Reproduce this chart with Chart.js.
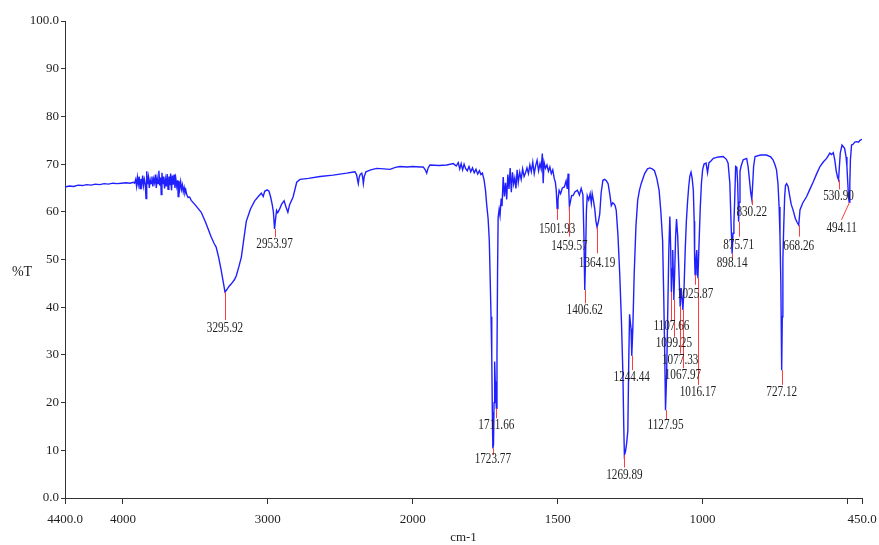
<!DOCTYPE html>
<html>
<head>
<meta charset="utf-8">
<script src="https://cdn.jsdelivr.net/npm/chart.js@4.4.1/dist/chart.umd.min.js"></script>
<style>
html,body{margin:0;padding:0;background:#fff;}
#wrap{position:relative;width:879px;height:545px;}
</style>
</head>
<body>
<div id="wrap"><canvas id="c" width="879" height="545"></canvas></div>
<script>
// ---- spectrum (wavenumber in cm-1, %T) ----
const wavenumbers = [
4400,4370,4340,4310,4280,4250,4220,4190,4160,4130,4100,4070,4040,4010,3980,3950,3930,
3920,3912,3906,3900,3894,3888,3882,3876,3870,3864,3858,3852,3846,3841,3836,3830,3824,3818,
3812,3806,3800,3794,3788,3782,3776,3770,3764,3758,3752,3746,3740,3736,3731,3725,3719,3713,
3707,3701,3695,3689,3683,3677,3671,3665,3659,3653,3647,3641,3635,3629,3623,3619,3614,3608,
3602,3596,3590,3584,3578,3572,3566,3560,3551,3540,3529,3500,3460,3430,3391,3370,3357,3340,
3322,3305,3296,3285,3270,3252,3230,3218,3200,3183,3165,3149,3120,3091,3060,3045,3032,3022,
3005,2992,2981,2970,2962,2954,2948,2940,2932,2920,2905,2888,2875,2862,2850,2826,2801,2778,
2720,2640,2550,2456,2420,2399,2388,2380,2376,2370,2362,2352,2346,2341,2335,2323,2290,2249,
2200,2157,2120,2088,2040,2000,1975,1964,1957,1952,1947,1941,1910,1883,1860,1850,1843,1838,
1833,1828,1823,1818,1812,1806,1800,1794,1788,1782,1776,1770,1765,1760,1754,1749,1745,1740,
1736,1733.5,1730,1727.5,1725.5,1723.77,1721.5,1719.5,1717.5,1715.5,1713.5,1711.66,1709.5,
1707.5,1705.5,1702,1699,1695,1692,1688,1684,1680,1676,1672,1668,1664,1660,1656,1652,1648,
1644,1640,1636,1631,1626,1621,1616,1611,1606,1601,1596,1591,1586,1581,1576,1571,1566,1561,
1557,1553,1550,1547,1542,1537,1532,1527,1522,1517,1512,1508,1505,1501.93,1499,1495,1490,
1484,1477,1471,1467,1464,1461.5,1459.57,1456,1452,1447,1440,1432,1425,1419,1413,1409.5,
1406.62,1404,1401,1398,1393,1388,1384,1381,1377,1372,1368,1364.19,1360,1355,1350,1344,1338,
1332,1326,1320,1315,1310,1306,1302,1298,1292,1286,1280,1275,1272,1269.89,1266,1262,1258,
1255,1252,1249.5,1247,1244.44,1241,1236,1230,1224,1218,1212,1200,1190,1182,1174,1166,1158,
1150,1144,1138,1134,1130.5,1127.95,1124,1120,1116.5,1113,1110,1107.66,1105,1103,1101,
1099.25,1096,1093,1090,1086,1082,1077.33,1074,1071,1067.97,1064,1060,1056,1052,1048,1044,
1040,1036,1032,1029,1027.5,1025.87,1023,1020,1018,1016.17,1013,1008,1004,1000,995,988,983,
978,972,963,945,929,918,912,906,902,898.14,895,892,889,886,882,879,877,875.71,874,871,867,
860,848,843,838,834,830.22,827,824,819,800,780,765,757,750,745,740,736,733,730,727.12,725,
723,720,717,714,710,705,700,694,688,680,674,668.26,664,655,641,630,618,607,595,583,572,561,
555,549,544,539,535,530.90,528,525,519,510,505,502,499,496.5,494.11,492,490,486,480,475,469,
462,457,450
];
const transmittance = [
65.2,65.4,65.3,65.6,65.5,65.7,65.6,65.8,65.7,65.9,65.8,66.0,65.9,66.0,66.1,66.0,66.2,
66.0,66.8,65.4,67.2,65.8,67.4,64.9,66.9,65.7,67.6,65.5,66.8,65.9,62.8,68.5,65.8,67.2,65.0,
66.7,65.9,67.4,65.3,66.9,66.1,67.8,65.0,67.1,65.9,68.6,65.5,67.2,63.6,68.2,65.8,67.4,64.9,
66.8,65.3,67.9,64.7,67.4,65.6,68.0,64.5,67.6,65.7,67.8,65.0,66.9,65.4,66.6,63.2,66.5,64.9,
66.3,64.7,65.6,64.2,65.1,63.9,64.5,63.6,63.0,63.1,62.4,61.4,59.9,57.8,54.7,53.3,52.6,50.5,
47.7,44.8,43.2,43.6,44.3,44.9,45.8,46.6,48.5,50.5,54.5,58.0,60.6,62.3,63.4,63.9,63.2,64.3,
64.6,64.3,63.1,61.5,60.0,56.4,58.2,60.3,59.8,60.5,61.6,62.3,61.0,59.9,61.5,63.1,66.2,66.8,
67.0,67.4,67.7,68.1,68.3,68.4,67.8,66.5,65.9,67.2,67.9,68.1,67.2,65.9,67.4,68.4,68.8,69.1,
69.0,68.9,69.3,69.5,69.4,69.5,69.4,69.4,68.8,68.1,69.2,69.8,69.7,69.8,70.1,69.6,70.3,69.0,
70.1,68.8,70.0,69.1,68.6,69.5,68.4,69.2,68.2,68.9,67.9,68.6,67.8,68.1,66.7,64.5,61.5,58.5,
54.0,47.5,38.0,29.8,18.0,10.4,11.2,20.0,28.6,24.5,21.5,18.8,30.0,
47.0,58.8,60.5,59.2,62.8,61.2,67.3,63.2,66.1,62.6,67.8,64.8,69.2,64.1,68.3,65.8,67.1,
64.9,68.8,66.2,68.3,66.8,69.0,67.4,68.2,69.2,68.0,69.8,68.4,70.4,68.0,69.7,70.8,68.6,70.1,
69.0,72.2,66.0,70.4,69.1,69.8,68.5,69.4,68.0,68.8,67.0,66.2,64.5,60.7,62.5,64.5,63.8,
65.0,65.2,66.5,64.8,68.0,64.0,61.1,62.2,63.4,63.4,64.2,64.5,63.5,64.9,63.6,55.0,
43.6,50.0,60.0,63.4,62.5,63.8,61.8,63.8,62.5,60.5,58.0,56.8,57.8,59.5,64.0,66.6,66.8,
66.5,65.9,63.6,61.3,61.9,61.7,61.3,60.3,55.0,47.0,37.0,26.0,15.0,9.0,9.8,11.5,14.1,
28.0,38.5,37.0,35.5,29.8,35.0,47.0,57.0,62.4,64.5,65.9,68.0,69.0,69.2,69.0,68.6,67.0,
64.5,60.0,54.0,42.0,29.5,18.4,26.0,40.0,52.0,59.0,52.0,43.2,48.0,52.0,47.0,
41.5,48.0,55.0,58.5,55.0,48.0,40.1,44.0,42.0,39.4,44.0,52.0,58.0,62.0,65.2,67.5,
68.3,67.0,64.5,58.0,50.0,46.8,50.0,52.0,48.0,46.1,52.0,61.0,66.0,68.8,70.0,70.2,68.2,
70.3,70.6,71.2,71.5,71.6,71.0,70.2,66.0,58.0,51.2,55.5,57.6,63.0,69.5,69.3,66.0,61.0,57.9,62.0,68.5,69.6,
70.9,71.2,69.5,66.5,64.0,62.6,66.0,69.5,71.6,71.9,71.9,71.5,70.9,69.8,68.8,66.0,61.0,55.0,45.0,26.8,38.0,
50.0,57.0,63.0,65.5,65.9,65.3,63.5,61.5,60.4,58.6,57.8,57.2,60.4,61.8,63.2,64.7,66.3,67.9,69.5,70.5,71.2,72.3,
72.0,72.4,70.9,68.6,67.4,66.7,69.5,72.3,74.0,73.3,71.5,69.5,66.0,63.0,62.0,66.0,70.9,74.0,74.2,74.6,74.7,
74.6,75.0,75.2
];

// ---- labelled peaks ----
const peakWavenumbers = [3295.92,2953.97,1723.77,1711.66,1501.93,1459.57,1406.62,1364.19,1269.89,1244.44,1127.95,1107.66,1099.25,1077.33,1067.97,1025.87,1016.17,898.14,875.71,830.22,727.12,668.26,530.90,494.11];
const peakTransmittance = [43.2,56.4,10.4,18.8,60.7,61.1,43.6,56.8,9.0,29.8,18.4,43.2,41.5,40.1,39.4,46.8,46.1,51.2,57.9,62.6,26.8,57.2,66.7,62.0];
const leaderEndT = [37.3,54.7,9.0,16.7,58.3,54.8,40.8,51.3,6.4,26.8,16.5,37.0,33.8,30.3,27.2,44.7,23.7,50.0,54.8,61.4,23.7,54.8,64.7,58.3];
const leaderEndW = [null,null,null,null,null,null,null,null,null,null,null,null,null,null,null,null,null,null,null,null,null,null,null,523.5];
const labelT = [35.6,53.2,8.2,15.3,56.3,52.8,39.4,49.3,4.8,25.4,15.3,35.9,32.4,28.9,25.8,42.6,22.1,49.1,53.0,59.8,22.2,52.8,63.2,56.5];
const labelW = [null,null,null,null,null,null,null,null,null,null,null,null,null,null,null,null,null,null,null,null,null,null,null,520];

// ---- axes ----
const xTickValues = [4400,4000,3000,2000,1500,1000,500,450];
const xTickLabels = ['4400.0','4000','3000','2000','1500','1000','','450.0'];
const yTickValues = [0,10,20,30,40,50,60,70,80,90,100];
const yTickLabels = ['0.0','10','20','30','40','50','60','70','80','90','100.0'];
const xTitle = 'cm-1';
const yTitle = '%T';

// scale with a 2x expansion below 2000 cm-1
const BREAK = 2000, FACTOR = 2;
function warp(w){ return w >= BREAK ? w : BREAK - FACTOR * (BREAK - w); }
function unwarp(u){ return u >= BREAK ? u : BREAK - (BREAK - u) / FACTOR; }

class WavenumberScale extends Chart.LinearScale {
  static id = 'wavenumber';
  getPixelForValue(value) {
    if (value === null || value === undefined || isNaN(value)) return NaN;
    const a = warp(this.min), b = warp(this.max);
    return this.getPixelForDecimal((warp(value) - a) / (b - a));
  }
  getValueForPixel(pixel) {
    const a = warp(this.min), b = warp(this.max);
    return unwarp(a + this.getDecimalForPixel(pixel) * (b - a));
  }
  buildTicks() { return xTickValues.map(v => ({ value: v })); }
}
Chart.register(WavenumberScale);

const serif = '"Liberation Serif", "Times New Roman", serif';
const textColor = '#1e1e1e';
const axisColor = '#333333';

const peakPlugin = {
  id: 'peakLabels',
  afterDatasetsDraw(chart) {
    const { ctx, scales: { x, y } } = chart;
    ctx.save();
    ctx.strokeStyle = '#ff3c3c';
    ctx.lineWidth = 1;
    peakWavenumbers.forEach((w, i) => {
      const x0 = x.getPixelForValue(w), y0 = y.getPixelForValue(peakTransmittance[i]);
      const x1 = x.getPixelForValue(leaderEndW[i] ?? w), y1 = y.getPixelForValue(leaderEndT[i]);
      ctx.beginPath();
      ctx.moveTo(Math.round(x0) + 0.5, y0);
      ctx.lineTo(Math.round(x1) + 0.5, y1);
      ctx.stroke();
    });
    ctx.fillStyle = textColor;
    ctx.font = '14px ' + serif;
    ctx.textAlign = 'center';
    ctx.textBaseline = 'middle';
    peakWavenumbers.forEach((w, i) => {
      const lx = x.getPixelForValue(labelW[i] ?? w), ly = y.getPixelForValue(labelT[i]);
      ctx.save();
      ctx.translate(lx, ly);
      ctx.scale(0.8, 1);
      ctx.fillText(w.toFixed(2), 0, 0);
      ctx.restore();
    });
    // y axis title, horizontal
    ctx.font = '14px ' + serif;
    ctx.fillText(yTitle, 22, 272);
    ctx.restore();
  }
};

new Chart(document.getElementById('c'), {
  type: 'line',
  data: {
    datasets: [{
      data: wavenumbers.map((w, i) => ({ x: w, y: transmittance[i] })),
      borderColor: '#2020ff',
      borderWidth: 1.4,
      pointRadius: 0,
      tension: 0,
      fill: false
    }]
  },
  options: {
    responsive: false,
    animation: false,
    devicePixelRatio: 1,
    layout: { padding: { top: 21, right: 17, bottom: 0, left: 0 } },
    plugins: { legend: { display: false }, tooltip: { enabled: false } },
    scales: {
      x: {
        type: 'wavenumber',
        min: 450, max: 4400,
        reverse: true,
        afterFit: s => { s.height = 47; s.paddingLeft = 0; s.paddingRight = 0; },
        grid: { display: true, drawOnChartArea: false, drawTicks: true, tickLength: 6, color: axisColor, lineWidth: 1 },
        border: { display: true, color: axisColor, width: 1 },
        ticks: {
          autoSkip: false, maxRotation: 0, padding: 8,
          color: textColor, font: { family: serif, size: 13 },
          callback: (v) => xTickLabels[xTickValues.indexOf(v)]
        },
        title: { display: true, text: xTitle, color: textColor, font: { family: serif, size: 13 }, padding: { top: 0, bottom: 0 } }
      },
      y: {
        type: 'linear',
        min: 0, max: 100,
        afterFit: s => { s.width = 65; s.paddingTop = 0; s.paddingBottom = 0; },
        afterBuildTicks: s => { s.ticks = yTickValues.map(v => ({ value: v })); },
        grid: { display: true, drawOnChartArea: false, drawTicks: true, tickLength: 4, color: axisColor, lineWidth: 1 },
        border: { display: true, color: axisColor, width: 1 },
        ticks: {
          autoSkip: false, padding: 2,
          color: textColor, font: { family: serif, size: 13 },
          callback: (v) => yTickLabels[yTickValues.indexOf(v)]
        }
      }
    }
  },
  plugins: [peakPlugin]
});
</script>
</body>
</html>
